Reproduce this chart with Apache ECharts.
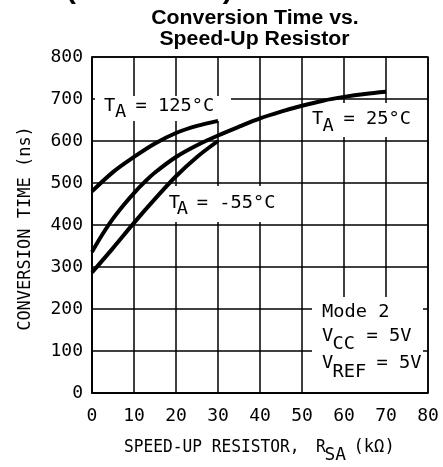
<!DOCTYPE html>
<html>
<head>
<meta charset="utf-8">
<script src="https://cdn.jsdelivr.net/npm/echarts@6/dist/echarts.min.js"></script>
<style>
  html, body { margin: 0; padding: 0; background: #fff; }
  #chart { width: 443px; height: 467px; }
</style>
</head>
<body>
<div id="chart"></div>
<script>
// ---- Data ----
const titleLines = ['Conversion Time vs.', 'Speed-Up Resistor'];
const xAxisName = 'SPEED-UP RESISTOR,';
const xAxisNameSym = 'R';
const xAxisNameSub = 'SA';
const xAxisNameUnit = '(kΩ)';
const yAxisName = 'CONVERSION TIME (ns)';

const rsa125 = [0, 5, 10, 15, 20, 25, 30];
const time125 = [480, 526, 562, 594, 619, 636, 648];

const rsa25 = [0, 2.5, 5, 7.5, 10, 12.5, 15, 20, 25, 30, 35, 40, 45, 50, 55, 60, 65, 70];
const time25 = [336, 378, 415, 447, 476, 502, 525, 562, 590, 613, 634, 654, 670, 684, 696, 705, 712, 717];

const rsaM55 = [0, 5, 10, 15, 20, 25, 30];
const timeM55 = [287, 345, 405, 462, 516, 562, 600];

const labels = {
  t125: { main: 'T', sub: 'A', rest: '= 125°C' },
  t25: { main: 'T', sub: 'A', rest: '= 25°C' },
  tM55: { main: 'T', sub: 'A', rest: '= -55°C' },
  mode: 'Mode 2',
  vcc: { main: 'V', sub: 'CC', rest: '= 5V' },
  vref: { main: 'V', sub: 'REF', rest: '= 5V' }
};

// ---- Chart ----
const MONO = 'DejaVu Sans Mono';
const SX = 1.1;
const chart = echarts.init(document.getElementById('chart'), null, { renderer: 'canvas' });

function pairs(xs, ys) { return xs.map((x, i) => [x, ys[i]]); }

function txt(x, y, s, opt) {
  opt = opt || {};
  const size = opt.size || 17;
  const family = opt.family || MONO;
  const weight = opt.weight || 'normal';
  return {
    type: 'text',
    x: x, y: y,
    scaleX: opt.scaleX != null ? opt.scaleX : SX,
    rotation: opt.rotation || 0,
    z: 60,
    silent: true,
    style: {
      text: s,
      font: weight + ' ' + size + 'px "' + family + '"',
      fill: '#000',
      textAlign: opt.align || 'left',
      align: opt.align || 'left',
      textVerticalAlign: opt.valign || 'middle',
      verticalAlign: opt.valign || 'middle'
    }
  };
}
function box(x, y, w, h) {
  return { type: 'rect', z: 50, silent: true, shape: { x: x, y: y, width: w, height: h }, style: { fill: '#fff' } };
}
function subLabel(x, y, lab, subDx, restDx, subDy) {
  return [
    txt(x, y, lab.main),
    txt(x + subDx, y + (subDy || 7.5), lab.sub),
    txt(x + restDx, y, lab.rest)
  ];
}

const graphics = [
  // partial heading cut off at the top of the image
  txt(66, -9, '(Continued)', { family: 'Liberation Sans', weight: 'bold', size: 27, scaleX: 1.1 }),
  // title
  txt(255, 18.5, titleLines[0], { family: 'Liberation Sans', weight: 'bold', size: 19.5, scaleX: 1.09, align: 'center' }),
  txt(254.5, 39.5, titleLines[1], { family: 'Liberation Sans', weight: 'bold', size: 19.5, scaleX: 1.09, align: 'center' }),
  // white boxes behind annotations
  box(95, 96, 136, 25),
  box(305, 103, 116, 34),
  box(166, 186, 120, 36),
  box(312, 297, 111, 95),
  // annotations
  ...subLabel(104, 106.5, labels.t125, 11, 31.5, 6.5),
  ...subLabel(312, 119.3, labels.t25, 10.5, 31.5, 7.5),
  ...subLabel(168.7, 203.5, labels.tM55, 8, 28, 6.5),
  txt(322, 313, labels.mode),
  ...subLabel(322, 336.5, labels.vcc, 10.5, 44.5, 8.5),
  ...subLabel(322, 364, labels.vref, 10.5, 54.5, 8.5),
  // axis names
  txt(124, 447, xAxisName, { size: 18, scaleX: 0.9 }),
  txt(316, 447, xAxisNameSym, { size: 18, scaleX: 0.9 }),
  txt(324.5, 455.5, xAxisNameSub, { size: 17, scaleX: 1.05 }),
  txt(353.5, 447, xAxisNameUnit, { size: 18, scaleX: 0.95 }),
  txt(26, 228.5, yAxisName, { rotation: Math.PI / 2, scaleX: 1, align: 'center' })
];

const lineStyle = { color: '#000', width: 4 };
function curve(name, xs, ys) {
  return {
    name: name,
    type: 'line',
    data: pairs(xs, ys),
    showSymbol: false,
    symbol: 'none',
    smooth: 0.35,
    lineStyle: lineStyle,
    z: 100,
    silent: true
  };
}

chart.setOption({
  animation: false,
  backgroundColor: '#fff',
  grid: {
    left: 92, right: 15, top: 57, bottom: 74,
    show: true, borderColor: '#000', borderWidth: 1.5, backgroundColor: 'transparent'
  },
  xAxis: {
    type: 'value', min: 0, max: 80, interval: 10,
    axisLine: { show: true, lineStyle: { color: '#000', width: 1.5 } },
    axisTick: { show: false },
    splitLine: { show: true, lineStyle: { color: '#000', width: 1.5 } },
    axisLabel: { color: '#000', fontFamily: MONO, fontSize: 18, margin: 14 }
  },
  yAxis: {
    type: 'value', min: 0, max: 800, interval: 100,
    axisLine: { show: true, lineStyle: { color: '#000', width: 1.5 } },
    axisTick: { show: false },
    splitLine: { show: true, lineStyle: { color: '#000', width: 1.5 } },
    axisLabel: { color: '#000', fontFamily: MONO, fontSize: 18, margin: 9 }
  },
  graphic: { elements: graphics },
  series: [
    curve('TA = 125°C', rsa125, time125),
    curve('TA = 25°C', rsa25, time25),
    curve('TA = -55°C', rsaM55, timeM55)
  ]
});
</script>
</body>
</html>
